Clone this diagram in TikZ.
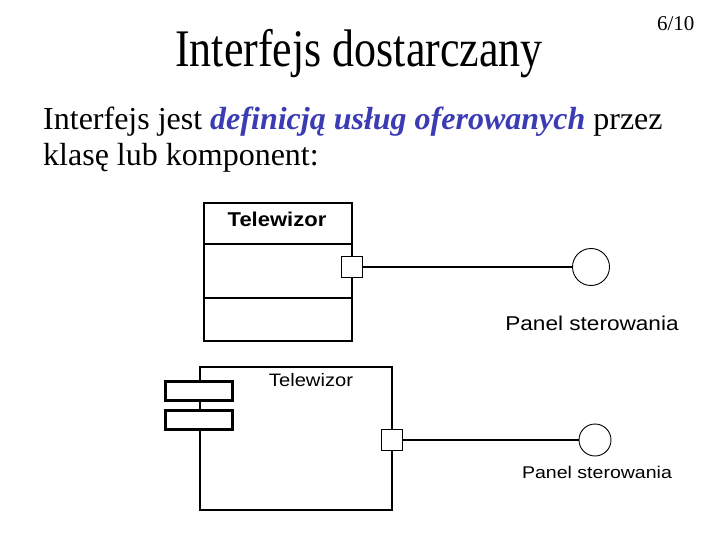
\documentclass[tikz,border=0pt]{standalone}
\usepackage{fontspec}
\setmainfont{Liberation Serif}
\setsansfont{Liberation Sans}
\usetikzlibrary{positioning}
\definecolor{emblue}{RGB}{59,59,179}

\begin{document}
\begin{tikzpicture}[
  x=1pt, y=-1pt,
  box/.style={draw, line width=1.6pt, inner sep=0pt},
  tab/.style={box, line width=2.2pt, fill=white, minimum width=67pt, minimum height=19pt},
  port/.style={draw, line width=0.8pt, fill=white, minimum size=21pt, inner sep=0pt},
  iface/.style={draw, line width=0.9pt, circle, fill=white, inner sep=0pt},
  wire/.style={line width=1.5pt},
]
  \useasboundingbox (0,0) rectangle (720,540);

  % Heading and slide number
  \node[anchor=base, font=\fontsize{44}{48}\selectfont] (title) at (359,67) {\scalebox{1}[1.2]{Interfejs dostarczany}};
  \node[anchor=base east, font=\fontsize{21}{24}\selectfont] (num) at (698,31) {6/10};

  % Body text
  \node[anchor=base west, inner sep=0pt, font=\fontsize{32}{36}\selectfont] (line1) at (43,130)
    {Interfejs jest \textcolor{emblue}{\textbf{\textit{definicją usług oferowanych}}} przez};
  \node[anchor=base west, inner sep=0pt, font=\fontsize{32}{36}\selectfont] (line2) at (43,166)
    {klasę lub komponent:};

  % Class with a provided interface
  \node[box, minimum width=148pt, minimum height=138pt] (cls) at (278,272) {};
  \draw[line width=1.6pt] (204,244) -- (352,244);
  \draw[line width=1.6pt] (204,298) -- (352,298);
  \node[font=\sffamily\bfseries\fontsize{20}{22}\selectfont] (clsname) at (277,219) {\scalebox{1.1}[1]{Telewizor}};
  \node[port] (p1) at (352,267) {};
  \node[iface, minimum size=37pt] (i1) at (591,267) {};
  \draw[wire] (p1.east) -- (i1.west);
  \node[anchor=base, font=\sffamily\fontsize{20}{22}\selectfont] (l1) at (592,330) {\scalebox{1.13}[1]{Panel sterowania}};

  % Component with a provided interface
  \node[box, minimum width=192pt, minimum height=143pt] (cmp) at (296,438.5) {};
  \node[tab] (tab1) at (199,391) {};
  \node[tab] (tab2) at (199,420) {};
  \node[font=\sffamily\fontsize{18}{20}\selectfont] (cmpname) at (311,380) {\scalebox{1.12}[1]{Telewizor}};
  \node[port] (p2) at (392,440) {};
  \node[iface, minimum size=32pt] (i2) at (595,440) {};
  \draw[wire] (p2.east) -- (i2.west);
  \node[anchor=base, font=\sffamily\fontsize{17}{19}\selectfont] (l2) at (597,478) {\scalebox{1.15}[1]{Panel sterowania}};
\end{tikzpicture}
\end{document}
